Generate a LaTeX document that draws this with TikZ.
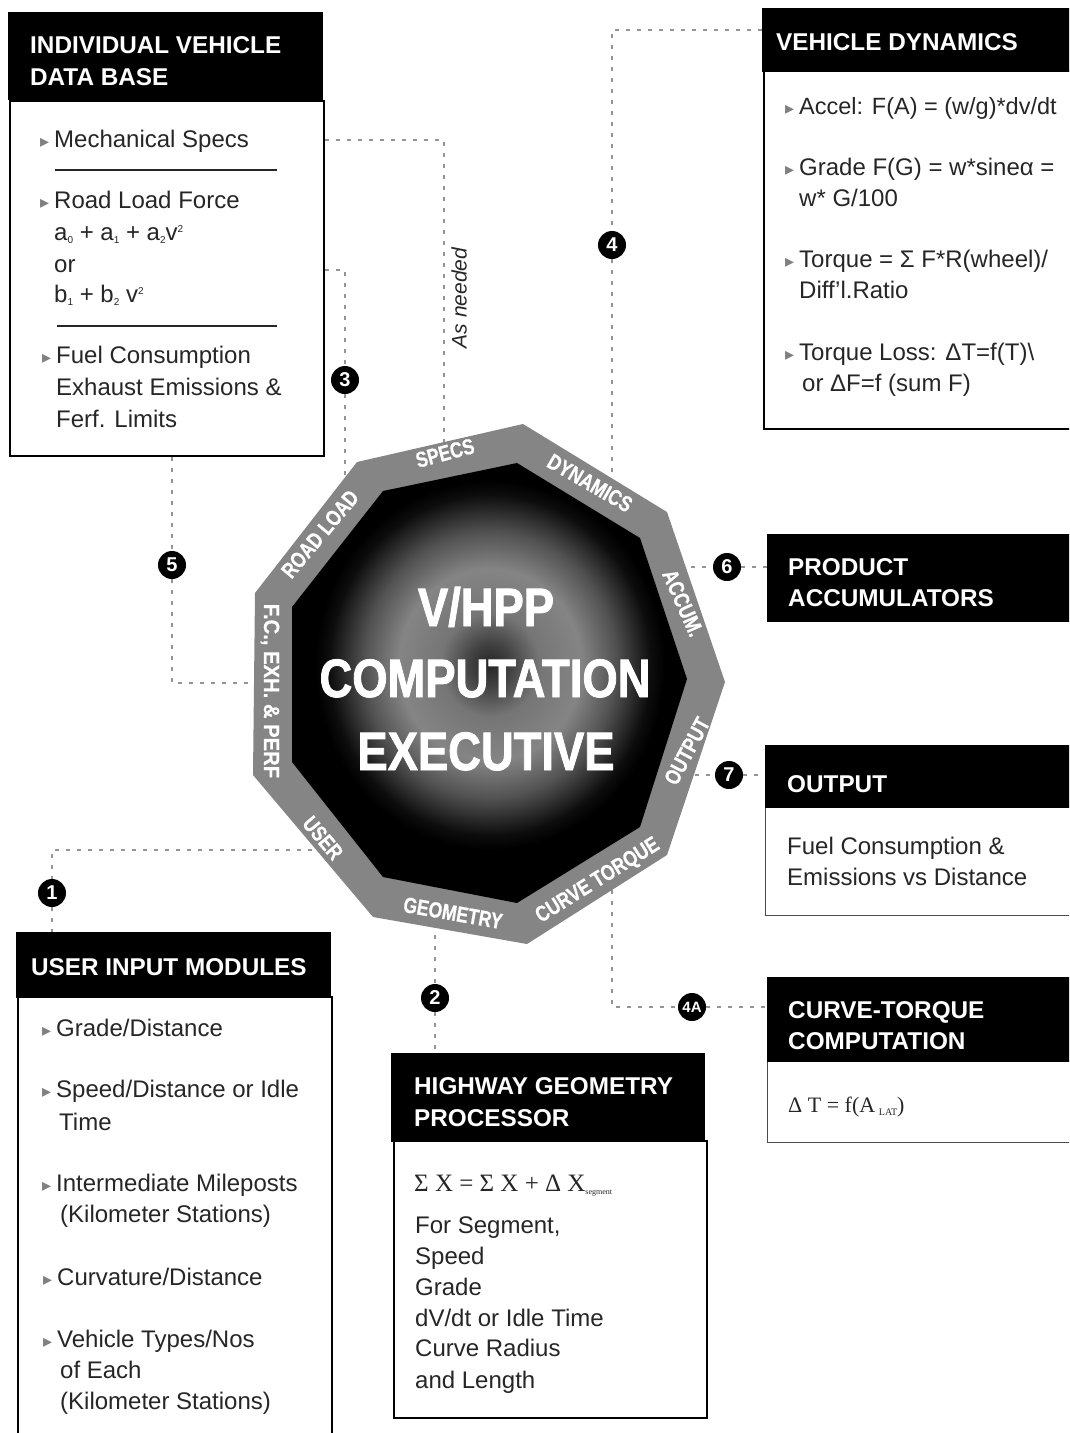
\documentclass[tikz,border=0pt]{standalone}
\usepackage{fontspec}
\setmainfont{Liberation Sans}
\newfontfamily\condf[FakeStretch=0.84,BoldFeatures={FakeBold=1.5}]{Liberation Sans}
\newfontfamily\bandf[FakeStretch=0.8,BoldFeatures={FakeBold=0.6}]{Liberation Sans}
\newfontfamily\bandw[FakeStretch=0.92,BoldFeatures={FakeBold=0.6}]{Liberation Sans}
\newfontfamily\djv{DejaVu Sans}
\newfontfamily\serf{Liberation Serif}
\newcommand{\bul}{\makebox[14pt][l]{\djv\fontsize{18}{18}\selectfont\textcolor{black!50}{▸}}}
\newcommand{\sbs}[1]{\raisebox{-3pt}{\fontsize{10}{10}\selectfont #1}}
\newcommand{\sps}[1]{\raisebox{8pt}{\fontsize{10}{10}\selectfont #1}}
\pgfdeclareradialshading{eyeglow}{\pgfpointorigin}{
 color(0bp)=(black!85); color(3bp)=(black!74); color(7bp)=(black!54);
 color(13bp)=(black!48); color(18bp)=(black!68); color(23bp)=(black!95); color(25bp)=(black); color(50bp)=(black)}
\tikzset{
 boxbody/.style={draw=black,line width=1.6pt,fill=white,anchor=north west,inner sep=0pt},
 boxhead/.style={fill=black,anchor=north west,inner sep=0pt},
 headtxt/.style={anchor=base west,inner sep=0pt,text=white,font=\bfseries\fontsize{24.3}{24.3}\selectfont},
 bodytxt/.style={anchor=base west,inner sep=0pt,text=black!85,font=\fontsize{24}{24}\selectfont},
 formula/.style={anchor=base west,inner sep=0pt,text=black!85,font=\serf\fontsize{24}{24}\selectfont},
 link/.style={draw=black!42,line width=2.8pt,dash pattern=on 4pt off 7pt},
 badge/.style={circle,fill=black,text=white,inner sep=0pt,minimum size=28pt,font=\bfseries\fontsize{20}{20}\selectfont},
 bandtxt/.style={inner sep=0pt,text=white,font=\bandf\bfseries\fontsize{22}{22}\selectfont},
 bigtxt/.style={inner sep=0pt,anchor=base,text=white,font=\condf\bfseries\fontsize{54}{54}\selectfont},
 sepline/.style={draw=black!85,line width=1.2pt}
}
\begin{document}
\begin{tikzpicture}[x=1pt,y=-1pt]
\useasboundingbox (0,0) rectangle (1069,1433);
\clip (0,0) rectangle (1069,1433);

% boxes
\node[boxbody,minimum width=314pt,minimum height=355pt] (db) at (9,100) {};
\node[boxhead,minimum width=315pt,minimum height=88pt] (dbh) at (8,12) {};
\node[boxbody,minimum width=320pt,minimum height=358pt] (vd) at (763,70) {};
\node[boxhead,minimum width=320pt,minimum height=64pt] (vdh) at (762,8) {};
\node[boxhead,minimum width=310pt,minimum height=88pt] (pa) at (767,534) {};
\node[boxbody,draw=black!70,line width=1pt,minimum width=320pt,minimum height=109pt] (ou) at (765,806) {};
\node[boxhead,minimum width=310pt,minimum height=63pt] (ouh) at (765,745) {};
\node[boxbody,draw=black!70,line width=1pt,minimum width=320pt,minimum height=82pt] (ct) at (767,1060) {};
\node[boxhead,minimum width=310pt,minimum height=85pt] (cth) at (767,977) {};
\node[boxbody,minimum width=313pt,minimum height=277pt] (hw) at (393,1140) {};
\node[boxhead,minimum width=314pt,minimum height=89pt] (hwh) at (391,1053) {};
\node[boxbody,minimum width=314pt,minimum height=460pt] (ui) at (17,996) {};
\node[boxhead,minimum width=315pt,minimum height=66pt] (uih) at (16,932) {};

% badges
\node[badge] (b1) at (52,893) {1};
\node[badge] (b2) at (435,998) {2};
\node[badge] (b3) at (345,380) {3};
\node[badge] (b4) at (612,245) {4};
\node[badge] (b5) at (172,565) {5};
\node[badge] (b6) at (727,567) {6};
\node[badge] (b7) at (729,775) {7};
\node[badge,font=\bfseries\fontsize{15}{15}\selectfont] (b4a) at (692,1007) {4A};

% ports on the ring and corners
\coordinate (pSpecs) at (444,465);
\coordinate (pRoad) at (345,480);
\coordinate (pDyn) at (612,485);
\coordinate (pFC) at (258,683);
\coordinate (pUser) at (312,850);
\coordinate (pGeo) at (435,935);
\coordinate (pAcc) at (680,567);
\coordinate (pOut) at (695,775);
\coordinate (pCurve) at (612,890);
\coordinate (cSpecs) at (444,140);
\coordinate (cRoad) at (345,270);
\coordinate (cDyn) at (612,30);
\coordinate (cFC) at (172,683);
\coordinate (cUser) at (52,850);
\coordinate (cCurve) at (612,1007);

% connectors
\draw[link] (db.east |- cSpecs) -- (cSpecs) -- (pSpecs);
\draw[link] (db.east |- cRoad) -- (cRoad) -- (b3);
\draw[link] (b3) -- (pRoad);
\draw[link] (vdh.west |- cDyn) -- (cDyn) -- (b4);
\draw[link] (b4) -- (pDyn);
\draw[link] (db.south -| b5) -- (b5);
\draw[link] (b5) -- (cFC) -- (pFC);
\draw[link] (pUser) -- (cUser) -- (b1);
\draw[link] (b1) -- (uih.north -| b1);
\draw[link] (pGeo) -- (b2);
\draw[link] (b2) -- (hwh.north -| b2);
\draw[link] (pAcc) -- (b6);
\draw[link] (b6) -- (pa.west |- b6);
\draw[link] (pOut) -- (b7);
\draw[link] (b7) -- (ouh.west |- b7);
\draw[link] (pCurve) -- (cCurve) -- (b4a);
\draw[link] (b4a) -- (cth.west |- b4a);

% executive
\fill[black!48] (523,424) -- (667,512) -- (725,682) -- (667,855) -- (527,944) -- (373,917) -- (253,775) -- (255,593) -- (357,462) -- cycle;
\fill[black] (517,463) -- (640,538) -- (687,679) -- (640,827) -- (517,903) -- (383,877) -- (292,762) -- (292,607) -- (383,491) -- cycle;
\begin{scope}
\clip (517,463) -- (640,538) -- (687,679) -- (640,827) -- (517,903) -- (383,877) -- (292,762) -- (292,607) -- (383,491) -- cycle;
\path[shading=eyeglow] (490,665) ellipse (175 and 185);
\end{scope}

% ring labels
\node[bandtxt,rotate=15] (rSpecs) at (445,453) {SPECS};
\node[bandtxt,rotate=-30] (rDyn) at (590,483) {DYNAMICS};
\node[bandtxt,rotate=-66] (rAcc) at (683,603) {ACCUM.};
\node[bandtxt,rotate=62] (rOut) at (687,751) {OUTPUT};
\node[bandtxt,rotate=32] (rCurve) at (598,881) {CURVE TORQUE};
\node[bandtxt,rotate=-10] (rGeo) at (453,913) {GEOMETRY};
\node[bandtxt,rotate=-50] (rUser) at (323,838) {USER};
\node[bandtxt,rotate=-90,font=\bandw\bfseries\fontsize{22}{22}\selectfont] (rFC) at (270,691) {F.C., EXH. \& PERF};
\node[bandtxt,rotate=50] (rRoad) at (320,534) {ROAD LOAD};

% centre title
\node[bigtxt] (t1) at (486,626) {V/HPP};
\node[bigtxt] (t2) at (485,697) {COMPUTATION};
\node[bigtxt] (t3) at (486,770) {EXECUTIVE};

% data base
\node[headtxt] (h1a) at (30,53) {INDIVIDUAL VEHICLE};
\node[headtxt] (h1b) at (30,85) {DATA BASE};
\node[bodytxt] (a1) at (40,147) {\bul Mechanical Specs};
\draw[sepline] (55,170) -- (277,170);
\node[bodytxt] (a2) at (40,208) {\bul Road Load Force};
\node[bodytxt] (a3) at (54,240) {a\sbs{0} + a\sbs{1} + a\sbs{2}v\sps{2}};
\node[bodytxt] (a4) at (54,272) {or};
\node[bodytxt] (a5) at (54,302) {b\sbs{1} + b\sbs{2} v\sps{2}};
\draw[sepline] (57,326) -- (277,326);
\node[bodytxt] (a6) at (42,363) {\bul Fuel Consumption};
\node[bodytxt] (a7) at (56,395) {Exhaust Emissions \&};
\node[bodytxt] (a8) at (56,427) {Ferf. Limits};

% vehicle dynamics
\node[headtxt] (h2) at (776,50) {VEHICLE DYNAMICS};
\node[bodytxt,font=\fontsize{23.5}{23.5}\selectfont] (d1) at (785,114) {\bul Accel: F(A) = (w/g)*dv/dt};
\node[bodytxt] (d2) at (785,175) {\bul Grade F(G) = w*sineα =};
\node[bodytxt] (d3) at (799,206) {w* G/100};
\node[bodytxt] (d4) at (785,267) {\bul Torque = Σ F*R(wheel)/};
\node[bodytxt] (d5) at (799,298) {Diff'l.Ratio};
\node[bodytxt] (d6) at (785,360) {\bul Torque Loss: ΔT=f(T)\textbackslash};
\node[bodytxt] (d7) at (802,391) {or ΔF=f (sum F)};

% product
\node[headtxt] (h3a) at (788,575) {PRODUCT};
\node[headtxt] (h3b) at (788,606) {ACCUMULATORS};

% output
\node[headtxt] (h4) at (787,792) {OUTPUT};
\node[bodytxt] (o1) at (787,854) {Fuel Consumption \&};
\node[bodytxt] (o2) at (787,885) {Emissions vs Distance};

% curve torque
\node[headtxt] (h5a) at (788,1018) {CURVE-TORQUE};
\node[headtxt] (h5b) at (788,1049) {COMPUTATION};
\node[formula,font=\serf\fontsize{22}{22}\selectfont] (c1) at (788,1112) {Δ T = f(A\,\sbs{LAT})};

% highway
\node[headtxt] (h6a) at (414,1094) {HIGHWAY GEOMETRY};
\node[headtxt] (h6b) at (414,1126) {PROCESSOR};
\node[formula,font=\serf\fontsize{25}{25}\selectfont] (g0) at (414,1191) {Σ X = Σ X + Δ X\sbs{\fontsize{8}{8}\selectfont segment}};
\node[bodytxt] (g1) at (415,1233) {For Segment,};
\node[bodytxt] (g2) at (415,1264) {Speed};
\node[bodytxt] (g3) at (415,1295) {Grade};
\node[bodytxt] (g4) at (415,1326) {dV/dt or Idle Time};
\node[bodytxt] (g5) at (415,1356) {Curve Radius};
\node[bodytxt] (g6) at (415,1388) {and Length};

% user input
\node[headtxt] (h7) at (31,975) {USER INPUT MODULES};
\node[bodytxt] (u1) at (42,1036) {\bul Grade/Distance};
\node[bodytxt] (u2) at (42,1097) {\bul Speed/Distance or Idle};
\node[bodytxt] (u3) at (59,1130) {Time};
\node[bodytxt] (u4) at (42,1191) {\bul Intermediate Mileposts};
\node[bodytxt] (u5) at (60,1222) {(Kilometer Stations)};
\node[bodytxt] (u6) at (43,1285) {\bul Curvature/Distance};
\node[bodytxt] (u7) at (43,1347) {\bul Vehicle Types/Nos};
\node[bodytxt] (u8) at (60,1378) {of Each};
\node[bodytxt] (u9) at (60,1409) {(Kilometer Stations)};

% note
\node[inner sep=0pt,rotate=90,text=black!85,font=\itshape\fontsize{21}{21}\selectfont] (note) at (459,298) {As needed};
\end{tikzpicture}
\end{document}
